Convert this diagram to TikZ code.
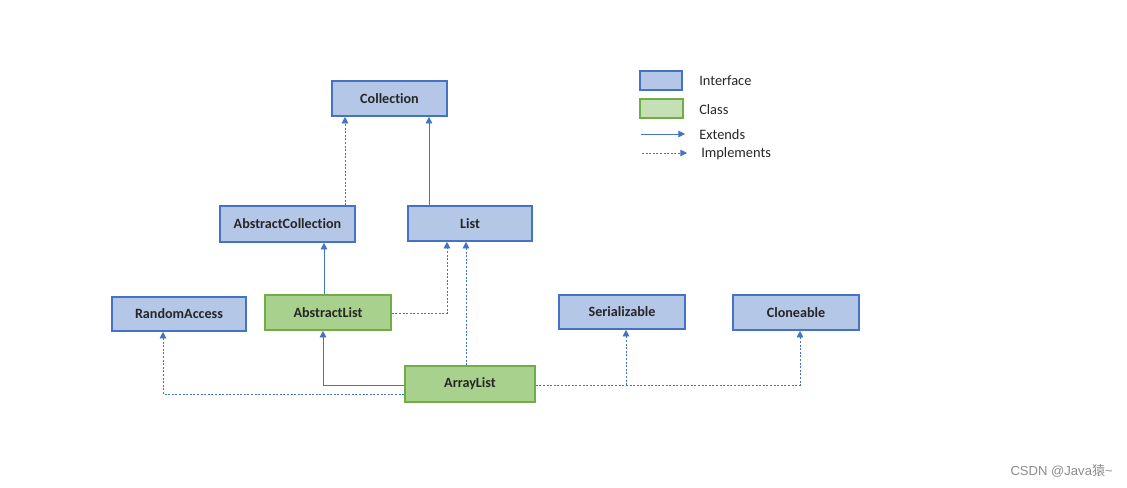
\documentclass[tikz,border=0pt]{standalone}
\usepackage{fontspec}
\setmainfont{Carlito}[Ligatures=NoCommon]
\newfontfamily\wmfont{Liberation Sans}
\newfontfamily\cjkfont{Noto Sans CJK SC}
\usetikzlibrary{arrows.meta}
\definecolor{ifill}{HTML}{B4C7E7}
\definecolor{idraw}{HTML}{4472C4}
\definecolor{cfill}{HTML}{A9D18E}
\definecolor{lcfill}{HTML}{C5E0B4}
\definecolor{cdraw}{HTML}{70AD47}
\definecolor{txt}{HTML}{262626}
\definecolor{lnk}{HTML}{4472C4}
\tikzset{
  iface/.style={draw=idraw, fill=ifill, line width=1.2pt, inner sep=0pt, font=\fontsize{10.6}{12}\selectfont\bfseries, text=txt},
  klass/.style={draw=cdraw, fill=cfill, line width=1.2pt, inner sep=0pt, font=\fontsize{10.6}{12}\selectfont\bfseries, text=txt},
  ext/.style={draw=lnk, line width=0.7pt, -{Triangle[length=5pt,width=5pt]}},
  impl/.style={draw=lnk, line width=0.7pt, dash pattern=on 1.5pt off 1.2pt, -{Triangle[length=5pt,width=5pt]}},
  legtxt/.style={anchor=west, font=\fontsize{10.8}{12}\selectfont, text=txt, inner sep=0pt}
}
\begin{document}
\begin{tikzpicture}[x=0.75pt,y=-0.75pt]
\useasboundingbox (0,0) rectangle (1127,487);
% boxes
\node[iface, minimum width=115*0.75pt, minimum height=35*0.75pt] (coll) at (389.5,98.5) {Collection};
\node[iface, minimum width=135*0.75pt, minimum height=36*0.75pt] (acoll) at (287.5,224) {AbstractCollection};
\node[iface, minimum width=124*0.75pt, minimum height=35*0.75pt] (list) at (470,223.5) {List};
\node[iface, minimum width=134*0.75pt, minimum height=34*0.75pt] (ra) at (179,314) {RandomAccess};
\node[klass, minimum width=126*0.75pt, minimum height=35*0.75pt] (alist) at (328,312.5) {AbstractList};
\node[iface, minimum width=126*0.75pt, minimum height=34*0.75pt] (ser) at (622,312) {Serializable};
\node[iface, minimum width=126*0.75pt, minimum height=35*0.75pt] (clo) at (796,312.5) {Cloneable};
\node[klass, minimum width=130*0.75pt, minimum height=36*0.75pt] (alst) at (470,384) {ArrayList};
% connectors
\draw[impl] (acoll.north -| 345,0) -- (coll.south -| 345,0);
\draw[ext] (list.north -| 429,0) -- (coll.south -| 429,0);
\draw[ext] (alist.north -| 324,0) -- (acoll.south -| 324,0);
\draw[impl] (alist.east |- 0,313) -- (447,313) -- (list.south -| 447,0);
\draw[impl] (alst.north -| 466,0) -- (list.south -| 466,0);
\draw[ext] (alst.west |- 0,385) -- (323,385) -- (alist.south -| 323,0);
\draw[impl] (alst.west |- 0,394) -- (163,394) -- (ra.south -| 163,0);
\draw[impl] (alst.east |- 0,385) -- (626,385) -- (ser.south -| 626,0);
\draw[impl] (626,385) -- (800,385) -- (clo.south -| 800,0);
% legend
\node[draw=idraw, fill=ifill, line width=1.2pt, minimum width=42*0.75pt, minimum height=19*0.75pt, inner sep=0pt] (li) at (661,80.5) {};
\node[draw=cdraw, fill=lcfill, line width=1.2pt, minimum width=43*0.75pt, minimum height=19*0.75pt, inner sep=0pt] (lc) at (661.5,108.5) {};
\node[legtxt] (lit) at (699,81) {Interface};
\node[legtxt] (lct) at (699,110) {Class};
\coordinate (le1) at (641,134);
\coordinate (le2) at (685,134);
\draw[ext] (le1) -- (le2);
\node[legtxt] (let) at (699,135) {Extends};
\coordinate (lm1) at (642,153);
\coordinate (lm2) at (687,153);
\draw[impl] (lm1) -- (lm2);
\node[legtxt] (lmt) at (701,154) {Implements};
% watermark
\node[anchor=east, inner sep=0pt, text=black!45, font=\wmfont\fontsize{9.8}{11}\selectfont] (wm) at (1113,471) {CSDN @Java{\cjkfont 猿}\textasciitilde};
\end{tikzpicture}
\end{document}
